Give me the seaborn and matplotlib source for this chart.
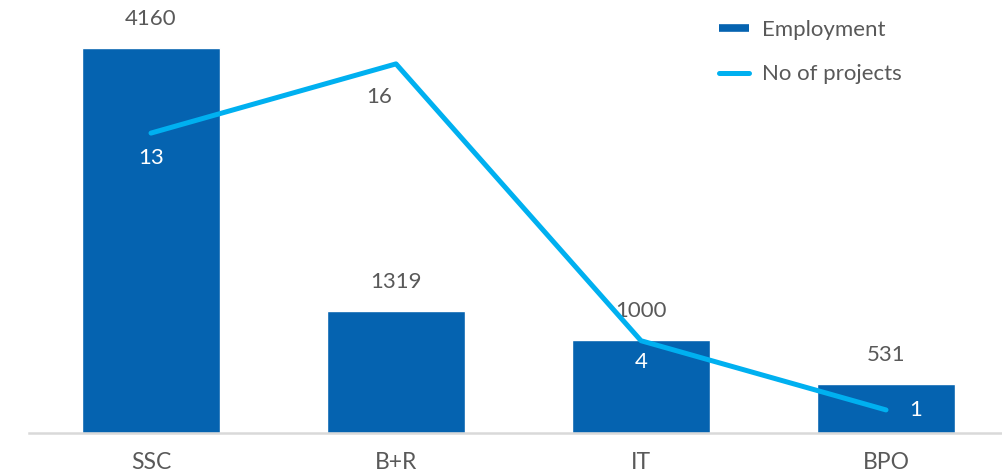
import numpy as np
import seaborn as sns
import matplotlib.pyplot as plt
from matplotlib.lines import Line2D

categories = ['SSC', 'B+R', 'IT', 'BPO']
employment = [4160, 1319, 1000, 531]
projects = [13, 16, 4, 1]

bar_color = '#0563B0'
line_color = '#00B0F0'
text_color = '#595959'

sns.set_style('white')
plt.rcParams['font.family'] = ['Lato', 'DejaVu Sans']

fig = plt.figure(figsize=(10.02, 4.74), dpi=100)
ax = fig.add_axes([28.5 / 1002, 41 / 474, 980 / 1002, 433 / 474])

sns.barplot(x=categories, y=employment, color=bar_color, width=0.565,
            saturation=1, ax=ax)
ax.set_xlim(-0.5, 3.5)
ax.set_ylim(0, 433 / 0.09255)

ax2 = ax.twinx()
sns.lineplot(x=np.arange(len(categories)), y=projects, color=line_color,
             linewidth=3.6, ax=ax2, solid_capstyle='round')
ax2.set_ylim(0, 433 / 23.07)

fs = 16
# labels
for i, v in enumerate(employment):
    ax.annotate(str(v), (i, v), xytext=(0, 21), textcoords='offset points',
                ha='center', va='center', fontsize=fs, color=text_color)

offsets = [(0, -18), (-12, -24), (0, -15), (21, 0)]
colors = ['white', text_color, 'white', 'white']
for i, v in enumerate(projects):
    ax2.annotate(str(v), (i, v), xytext=offsets[i], textcoords='offset points',
                 ha='center', va='center', fontsize=fs, color=colors[i])

for a in (ax, ax2):
    for s in a.spines.values():
        s.set_visible(False)
    a.set_yticks([])
    a.set_ylabel('')
ax.spines['bottom'].set_visible(True)
ax.spines['bottom'].set_color('#D9D9D9')
ax.spines['bottom'].set_linewidth(1.8)
ax.tick_params(axis='x', length=0, pad=14, labelsize=16.5, labelcolor=text_color)

handles = [Line2D([0], [0], color=bar_color, lw=5.5, solid_capstyle='butt'),
           Line2D([0], [0], color=line_color, lw=3.6, solid_capstyle='round')]
ax2.legend(handles, ['Employment', 'No of projects'], loc='upper left',
           bbox_to_anchor=(699 / 1002, 1.0), bbox_transform=fig.transFigure,
           frameon=False, handlelength=1.35, handletextpad=0.6, labelspacing=1.1,
           fontsize=fs, labelcolor=text_color)

fig.savefig('out.png', dpi=100)
